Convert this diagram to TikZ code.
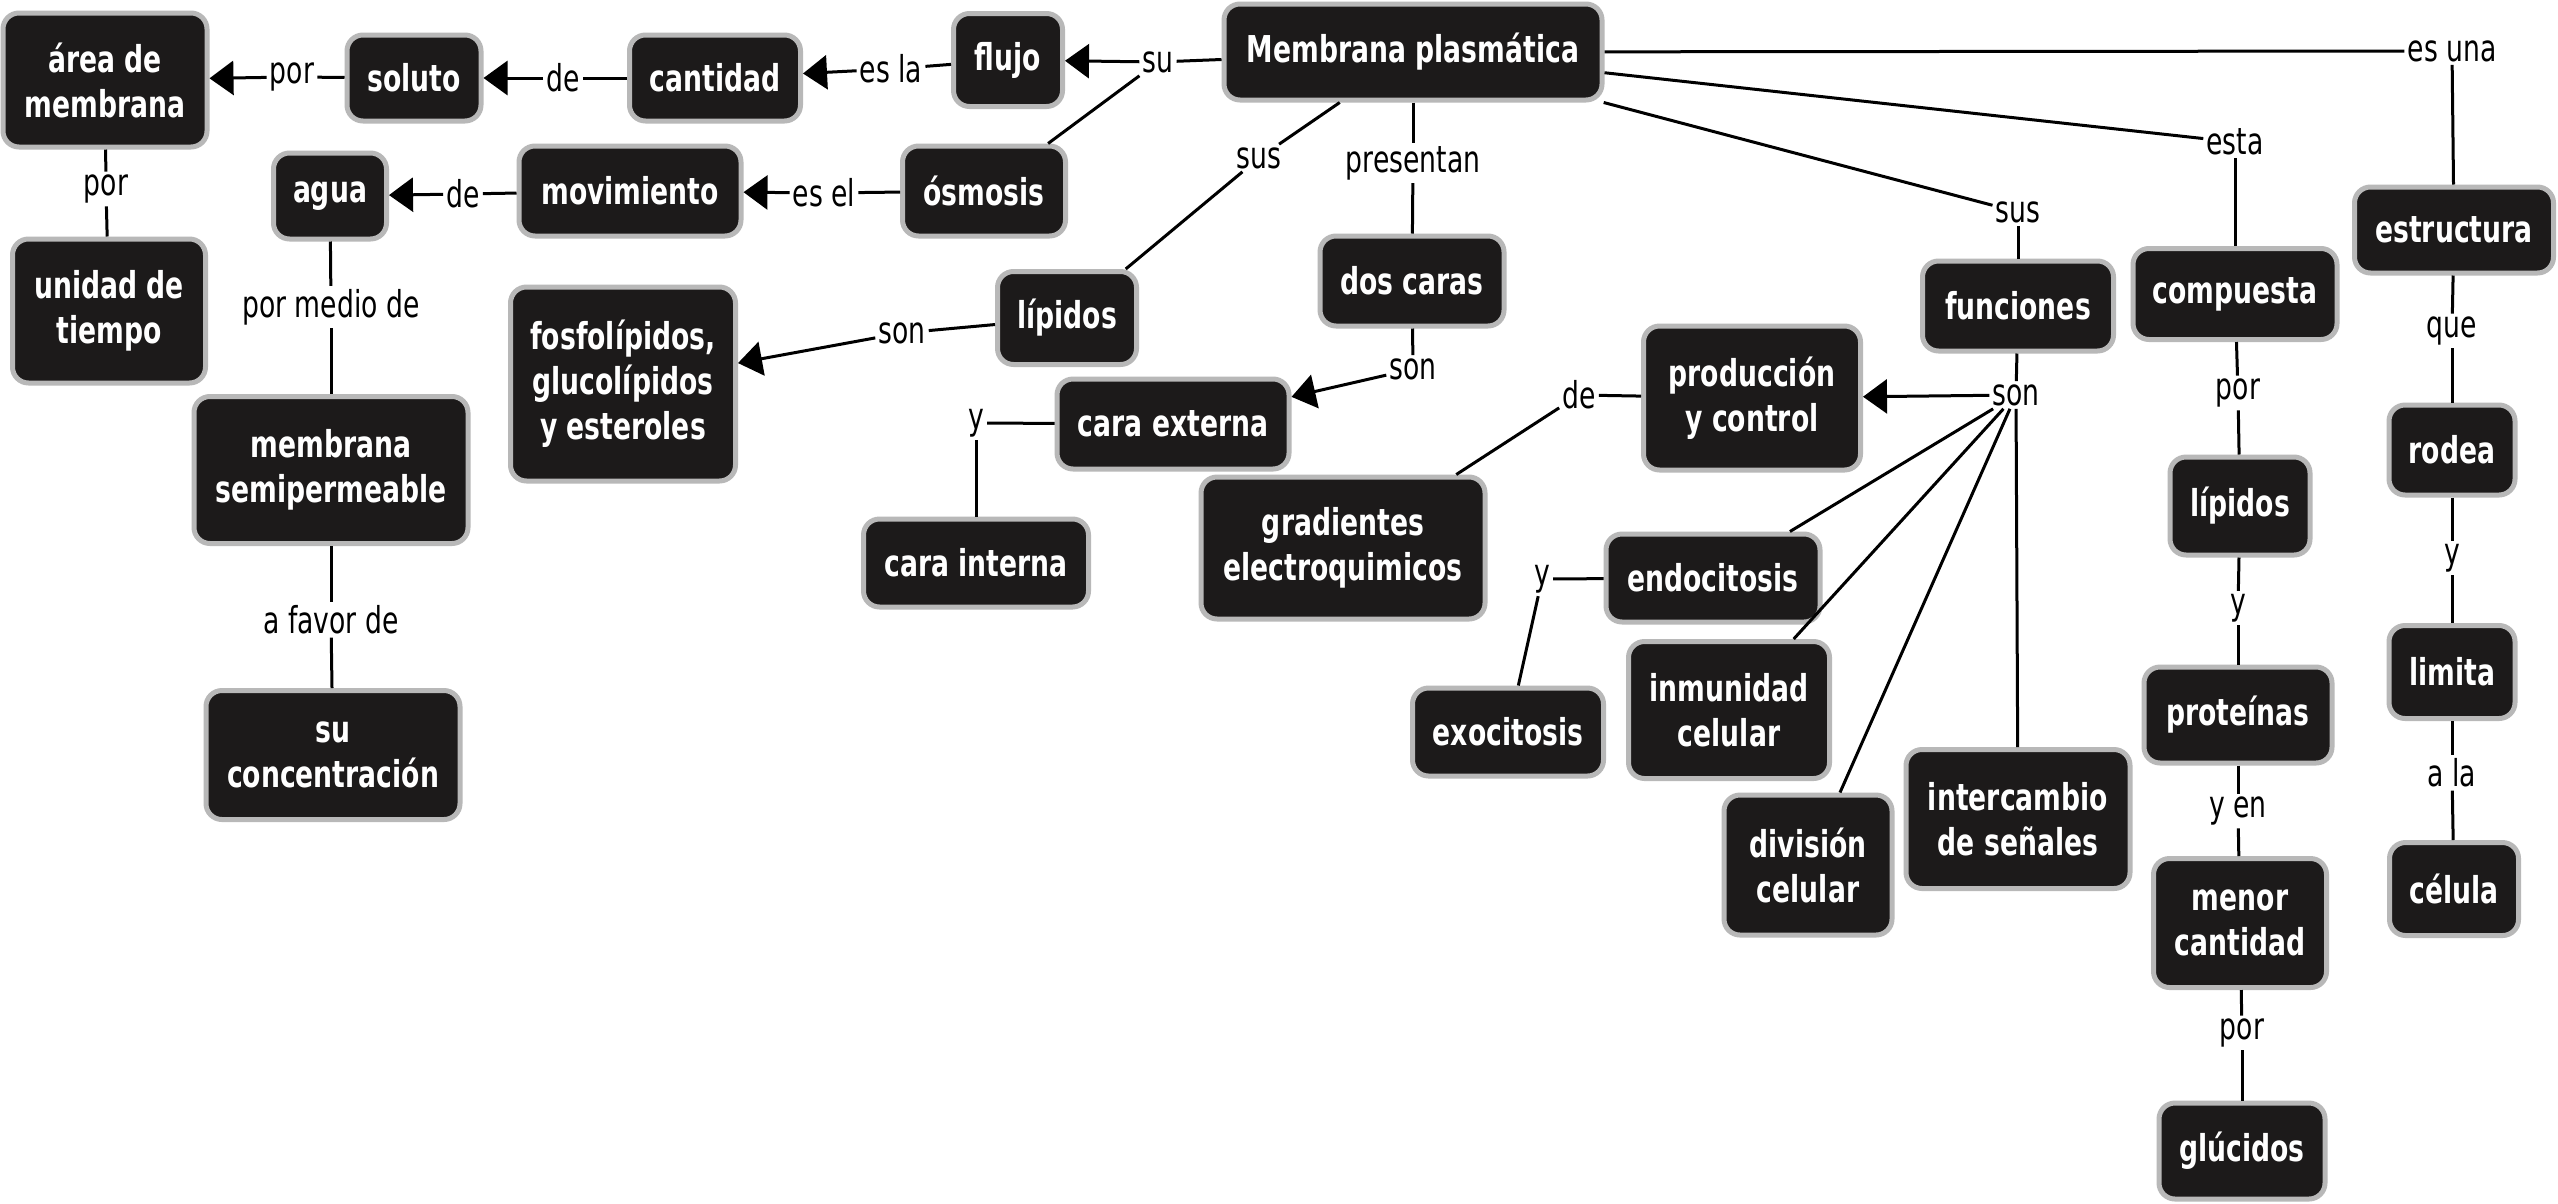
\documentclass[tikz,border=0pt]{standalone}
\usepackage{fontspec}
\setmainfont[FakeStretch=0.72]{DejaVu Sans}
\usetikzlibrary{arrows.meta}
\definecolor{nodefill}{HTML}{1C1A1A}
\definecolor{nodeborder}{HTML}{B8B8B8}
\begin{document}
\begin{tikzpicture}[x=1pt,y=-1pt,
  concept/.style={draw=nodeborder, line width=5pt, fill=nodefill, rounded corners=16pt,
    text=white, font=\fontsize{37}{45}\selectfont\bfseries, align=center, inner sep=4pt},
  lab/.style={font=\fontsize{37}{45}\selectfont, inner sep=3pt, text=black},
  conn/.style={line width=3pt, draw=black},
  arr/.style={conn, -{Triangle[length=24pt,width=34pt]}}]
\fill[white] (0,0) rectangle (2558,1203);
\useasboundingbox (0,0) rectangle (2558,1203);

% concepts
\node[concept, minimum width=378pt, minimum height=96pt] (mp) at (1413,52) {Membrana plasmática};
\node[concept, minimum width=109pt, minimum height=93pt] (flujo) at (1008,60) {flujo};
\node[concept, minimum width=171pt, minimum height=86pt] (cantidad) at (715,78) {cantidad};
\node[concept, minimum width=134pt, minimum height=86pt] (soluto) at (414,78) {soluto};
\node[concept, minimum width=204pt, minimum height=134pt] (area) at (105,80) {área de\\membrana};
\node[concept, minimum width=193pt, minimum height=144pt] (unidad) at (109,311) {unidad de\\tiempo};
\node[concept, minimum width=113pt, minimum height=86pt] (agua) at (330,196) {agua};
\node[concept, minimum width=222pt, minimum height=90pt] (movimiento) at (630,191) {movimiento};
\node[concept, minimum width=163pt, minimum height=90pt] (osmosis) at (984,191) {ósmosis};
\node[concept, minimum width=139pt, minimum height=93pt] (lipA) at (1067,318) {lípidos};
\node[concept, minimum width=225pt, minimum height=194pt] (fosfo) at (623,384) {fosfolípidos,\\glucolípidos\\y esteroles};
\node[concept, minimum width=184pt, minimum height=90pt] (doscaras) at (1412,281) {dos caras};
\node[concept, minimum width=232pt, minimum height=90pt] (externa) at (1173,424) {cara externa};
\node[concept, minimum width=225pt, minimum height=88pt] (interna) at (976,563) {cara interna};
\node[concept, minimum width=274pt, minimum height=147pt] (semi) at (331,470) {membrana\\semipermeable};
\node[concept, minimum width=254pt, minimum height=129pt] (concent) at (333,755) {su\\concentración};
\node[concept, minimum width=217pt, minimum height=144pt] (prod) at (1752,398) {producción\\y control};
\node[concept, minimum width=284pt, minimum height=142pt] (grad) at (1343,548) {gradientes\\electroquimicos};
\node[concept, minimum width=214pt, minimum height=88pt] (endo) at (1713,578) {endocitosis};
\node[concept, minimum width=191pt, minimum height=88pt] (exo) at (1508,732) {exocitosis};
\node[concept, minimum width=201pt, minimum height=137pt] (inmu) at (1729,710) {inmunidad\\celular};
\node[concept, minimum width=168pt, minimum height=140pt] (divi) at (1808,865) {división\\celular};
\node[concept, minimum width=224pt, minimum height=139pt] (inter) at (2018,819) {intercambio\\de señales};
\node[concept, minimum width=191pt, minimum height=90pt] (func) at (2018,306) {funciones};
\node[concept, minimum width=204pt, minimum height=91pt] (comp) at (2235,294) {compuesta};
\node[concept, minimum width=140pt, minimum height=98pt] (lipB) at (2240,506) {lípidos};
\node[concept, minimum width=188pt, minimum height=96pt] (prot) at (2238,715) {proteínas};
\node[concept, minimum width=173pt, minimum height=129pt] (menor) at (2240,923) {menor\\cantidad};
\node[concept, minimum width=166pt, minimum height=96pt] (gluc) at (2242,1151) {glúcidos};
\node[concept, minimum width=199pt, minimum height=86pt] (estr) at (2454,230) {estructura};
\node[concept, minimum width=126pt, minimum height=90pt] (rodea) at (2452,450) {rodea};
\node[concept, minimum width=126pt, minimum height=93pt] (limita) at (2452,672) {limita};
\node[concept, minimum width=129pt, minimum height=93pt] (celula) at (2454,889) {célula};

% linking phrases
\node[lab] (lsu) at (1158,62) {su};
\node[lab] (lesla) at (891,69) {es la};
\node[lab] (lde1) at (563,78) {de};
\node[lab] (lpor1) at (292,77) {por};
\node[lab] (lpor2) at (106,189) {por};
\node[lab] (lde2) at (463,194) {de};
\node[lab] (lesel) at (824,193) {es el};
\node[lab] (lsus1) at (1259,158) {sus};
\node[lab] (lpres) at (1413,163) {presentan};
\node[lab] (lson1) at (902,333) {son};
\node[lab] (lson2) at (1413,369) {son};
\node[lab] (ly1) at (976,423) {y};
\node[lab] (lpmd) at (331,307) {por medio de};
\node[lab] (lafav) at (331,620) {a favor de};
\node[lab] (lesuna) at (2452,51) {es una};
\node[lab] (lesta) at (2235,142) {esta};
\node[lab] (lsus2) at (2018,212) {sus};
\node[lab] (lson3) at (2016,395) {son};
\node[lab] (lde3) at (1579,395) {de};
\node[lab] (ly2) at (1542,579) {y};
\node[lab] (lque) at (2452,331) {que};
\node[lab] (ly3) at (2452,558) {y};
\node[lab] (lala) at (2452,773) {a la};
\node[lab] (lpor3) at (2238,393) {por};
\node[lab] (ly4) at (2238,608) {y};
\node[lab] (lyen) at (2238,811) {y en};
\node[lab] (lpor4) at (2242,1033) {por};

% connectors
\draw[conn] (mp) -- (lsu);
\draw[arr] (lsu) -- (flujo);
\draw[conn] (lsu) -- (osmosis);
\draw[conn] (flujo) -- (lesla);
\draw[arr] (lesla) -- (cantidad);
\draw[conn] (cantidad) -- (lde1);
\draw[arr] (lde1) -- (soluto);
\draw[conn] (soluto) -- (lpor1);
\draw[arr] (lpor1) -- (area);
\draw[conn] (area) -- (lpor2);
\draw[conn] (lpor2) -- (unidad);
\draw[conn] (osmosis) -- (lesel);
\draw[arr] (lesel) -- (movimiento);
\draw[conn] (movimiento) -- (lde2);
\draw[arr] (lde2) -- (agua);
\draw[conn] (agua) -- (lpmd);
\draw[conn] (lpmd) -- (semi);
\draw[conn] (semi) -- (lafav);
\draw[conn] (lafav) -- (concent);
\draw[conn] (mp) -- (lsus1);
\draw[conn] (lsus1) -- (lipA);
\draw[conn] (lipA) -- (lson1);
\draw[arr] (lson1) -- (fosfo);
\draw[conn] (mp) -- (lpres);
\draw[conn] (lpres) -- (doscaras);
\draw[conn] (doscaras) -- (lson2);
\draw[arr] (lson2) -- (externa);
\draw[conn] (externa) -- (ly1);
\draw[conn] (ly1) -- (interna);
\draw[conn] (mp) -- (lesuna);
\draw[conn] (lesuna) -- (estr);
\draw[conn] (estr) -- (lque);
\draw[conn] (lque) -- (rodea);
\draw[conn] (rodea) -- (ly3);
\draw[conn] (ly3) -- (limita);
\draw[conn] (limita) -- (lala);
\draw[conn] (lala) -- (celula);
\draw[conn] (mp) -- (lesta);
\draw[conn] (lesta) -- (comp);
\draw[conn] (comp) -- (lpor3);
\draw[conn] (lpor3) -- (lipB);
\draw[conn] (lipB) -- (ly4);
\draw[conn] (ly4) -- (prot);
\draw[conn] (prot) -- (lyen);
\draw[conn] (lyen) -- (menor);
\draw[conn] (menor) -- (lpor4);
\draw[conn] (lpor4) -- (gluc);
\draw[conn] (mp) -- (lsus2);
\draw[conn] (lsus2) -- (func);
\draw[conn] (func) -- (lson3);
\draw[arr] (lson3) -- (prod);
\draw[conn] (lson3) -- (endo);
\draw[conn] (lson3) -- (inmu);
\draw[conn] (lson3) -- (divi);
\draw[conn] (lson3) -- (inter);
\draw[conn] (prod) -- (lde3);
\draw[conn] (lde3) -- (grad);
\draw[conn] (endo) -- (ly2);
\draw[conn] (ly2) -- (exo);
\end{tikzpicture}
\end{document}
